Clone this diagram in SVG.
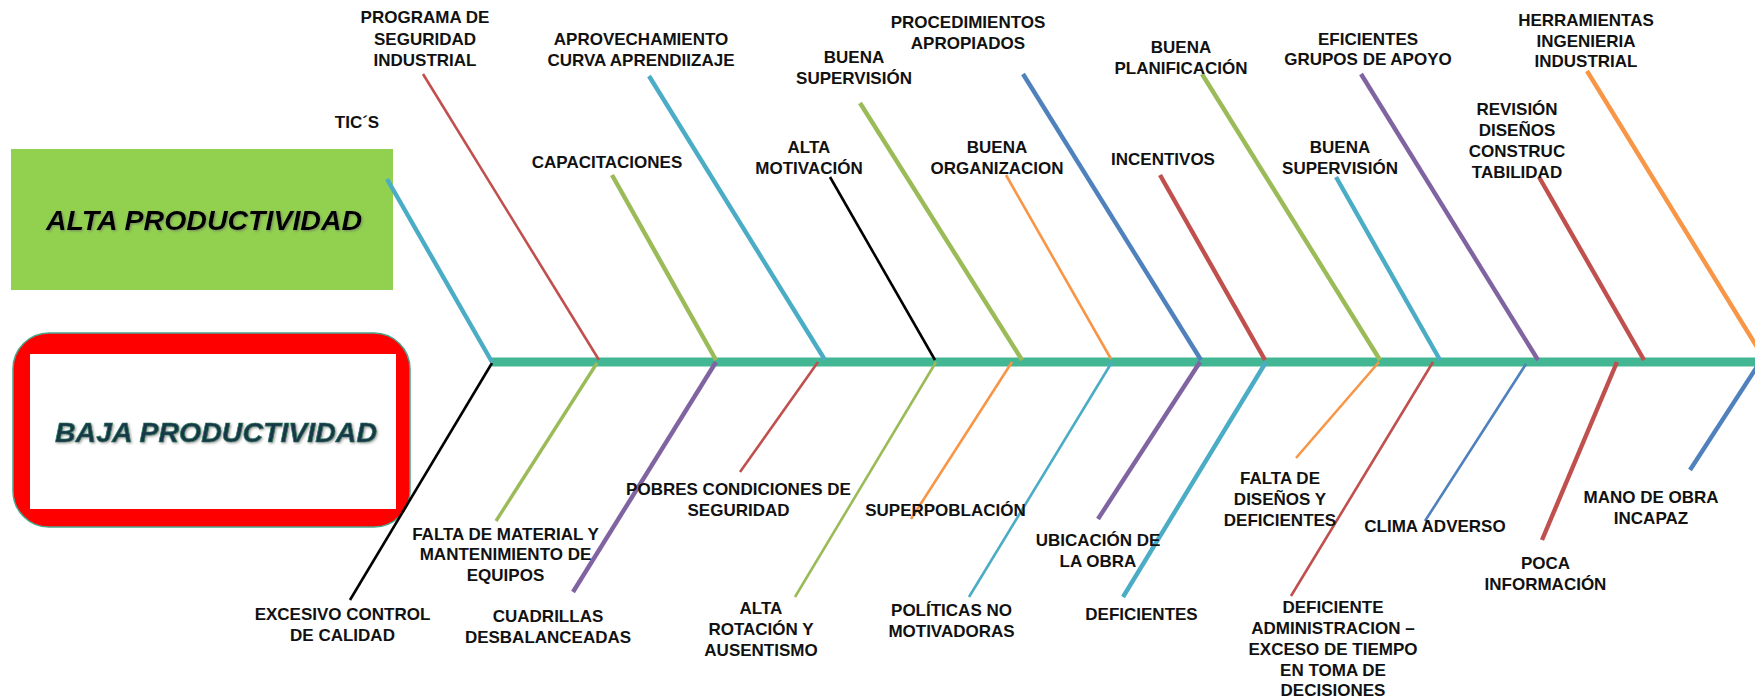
<svg xmlns="http://www.w3.org/2000/svg" width="1755" height="700" viewBox="0 0 1755 700">
<defs>
<style>
.lbl{font-family:"Liberation Sans",Arial,sans-serif;font-weight:bold;font-size:17px;text-anchor:middle;fill:#111}
.title{font-family:"Liberation Sans",Arial,sans-serif;font-weight:bold;font-style:italic;font-size:28.5px;text-anchor:middle}
.b{fill:none;stroke-linecap:butt}
.cy{stroke:#4bacc6}.rd{stroke:#c0504d}.gr{stroke:#9bbb59}.pu{stroke:#8064a2}.bl{stroke:#4f81bd}.or{stroke:#f79646}.bk{stroke:#000}
.t{stroke-width:2.6}.m{stroke-width:3.4}.w{stroke-width:4.4}
</style>
<filter id="sh" x="-5%" y="-20%" width="110%" height="140%">
<feDropShadow dx="1.2" dy="1.2" stdDeviation="0.8" flood-color="#666" flood-opacity="0.6"/>
</filter>
</defs>
<rect width="1755" height="700" fill="#fff"/>

<g id="alta-productividad">
<rect x="11" y="149" width="382" height="141" fill="#92d050"/>
<text class="title" x="204" y="230" fill="#000" filter="url(#sh)">ALTA PRODUCTIVIDAD</text>
</g>

<g id="baja-productividad">
<rect x="13" y="333" width="397" height="194" rx="36" ry="36" fill="#ff0000" stroke="#4aa58a" stroke-width="1.5"/>
<rect x="30" y="354" width="366" height="155" fill="#fff"/>
<text class="title" x="216" y="442" fill="#17394a" stroke="#2f7a5c" stroke-width="0.7" filter="url(#sh)">BAJA PRODUCTIVIDAD</text>
</g>

<g id="connectors">
<line x1="492" y1="362" x2="1755" y2="362" stroke="#43b693" stroke-width="9"/>
<line class="b cy w" x1="387" y1="179" x2="492" y2="362"/>
<line class="b rd t" x1="423" y1="74" x2="599" y2="360"/>
<line class="b gr w" x1="612" y1="175" x2="716" y2="360"/>
<line class="b cy w" x1="649" y1="76" x2="825" y2="360"/>
<line class="b bk t" x1="830" y1="177" x2="935" y2="360"/>
<line class="b gr w" x1="860" y1="103" x2="1022" y2="360"/>
<line class="b or t" x1="1006" y1="175" x2="1111" y2="359"/>
<line class="b bl w" x1="1023" y1="74" x2="1201" y2="360"/>
<line class="b rd w" x1="1160" y1="175" x2="1265" y2="360"/>
<line class="b gr w" x1="1202" y1="74" x2="1380" y2="360"/>
<line class="b cy w" x1="1336" y1="177" x2="1440" y2="360"/>
<line class="b pu w" x1="1361" y1="74" x2="1538" y2="360"/>
<line class="b rd w" x1="1539" y1="177" x2="1644" y2="360"/>
<line class="b or w" x1="1587" y1="71" x2="1757" y2="347"/>

<line class="b bk t" x1="492" y1="363" x2="350" y2="600"/>
<line class="b gr m" x1="597" y1="363" x2="496" y2="521"/>
<line class="b pu w" x1="716" y1="362" x2="573" y2="592"/>
<line class="b rd t" x1="818" y1="362" x2="740" y2="472"/>
<line class="b gr t" x1="936" y1="362" x2="795" y2="597"/>
<line class="b or t" x1="1012" y1="362" x2="911" y2="519"/>
<line class="b cy t" x1="1112" y1="362" x2="969" y2="597"/>
<line class="b pu w" x1="1200" y1="362" x2="1098" y2="519"/>
<line class="b cy w" x1="1266" y1="362" x2="1123" y2="597"/>
<line class="b or t" x1="1379" y1="362" x2="1296" y2="458"/>
<line class="b rd t" x1="1433" y1="362" x2="1291" y2="596"/>
<line class="b bl t" x1="1526" y1="364" x2="1425" y2="521"/>
<line class="b rd w" x1="1617" y1="362" x2="1542" y2="540"/>
<line class="b bl w" x1="1760" y1="362" x2="1690" y2="470"/>
</g>

<g id="tics"><text class="lbl" x="357" y="128">TIC´S</text></g>
<g id="programa-seguridad"><text class="lbl" x="425" y="23">PROGRAMA DE<tspan x="425" dy="21.5">SEGURIDAD</tspan><tspan x="425" dy="21.5">INDUSTRIAL</tspan></text></g>
<g id="capacitaciones"><text class="lbl" x="607" y="168">CAPACITACIONES</text></g>
<g id="aprovechamiento"><text class="lbl" x="641" y="44.5">APROVECHAMIENTO<tspan x="641" dy="21">CURVA APRENDIIZAJE</tspan></text></g>
<g id="alta-motivacion"><text class="lbl" x="809" y="153">ALTA<tspan x="809" dy="21">MOTIVACIÓN</tspan></text></g>
<g id="buena-supervision-1"><text class="lbl" x="854" y="63">BUENA<tspan x="854" dy="21">SUPERVISIÓN</tspan></text></g>
<g id="buena-organizacion"><text class="lbl" x="997" y="153">BUENA<tspan x="997" dy="21">ORGANIZACION</tspan></text></g>
<g id="procedimientos"><text class="lbl" x="968" y="28">PROCEDIMIENTOS<tspan x="968" dy="21">APROPIADOS</tspan></text></g>
<g id="incentivos"><text class="lbl" x="1163" y="165">INCENTIVOS</text></g>
<g id="buena-planificacion"><text class="lbl" x="1181" y="53">BUENA<tspan x="1181" dy="21">PLANIFICACIÓN</tspan></text></g>
<g id="buena-supervision-2"><text class="lbl" x="1340" y="153">BUENA<tspan x="1340" dy="21">SUPERVISIÓN</tspan></text></g>
<g id="eficientes"><text class="lbl" x="1368" y="44.5">EFICIENTES<tspan x="1368" dy="20">GRUPOS DE APOYO</tspan></text></g>
<g id="revision"><text class="lbl" x="1517" y="114.5">REVISIÓN<tspan x="1517" dy="21">DISEÑOS</tspan><tspan x="1517" dy="21">CONSTRUC</tspan><tspan x="1517" dy="21">TABILIDAD</tspan></text></g>
<g id="herramientas"><text class="lbl" x="1586" y="26">HERRAMIENTAS<tspan x="1586" dy="20.5">INGENIERIA</tspan><tspan x="1586" dy="20.5">INDUSTRIAL</tspan></text></g>

<g id="excesivo-control"><text class="lbl" x="342.5" y="620">EXCESIVO CONTROL<tspan x="342.5" dy="21">DE CALIDAD</tspan></text></g>
<g id="falta-material"><text class="lbl" x="505.5" y="539.5">FALTA DE MATERIAL Y<tspan x="505.5" dy="20.5">MANTENIMIENTO DE</tspan><tspan x="505.5" dy="20.5">EQUIPOS</tspan></text></g>
<g id="cuadrillas"><text class="lbl" x="548" y="622">CUADRILLAS<tspan x="548" dy="21">DESBALANCEADAS</tspan></text></g>
<g id="pobres-condiciones"><text class="lbl" x="738.5" y="494.5">POBRES CONDICIONES DE<tspan x="738.5" dy="21.5">SEGURIDAD</tspan></text></g>
<g id="alta-rotacion"><text class="lbl" x="761" y="613.5">ALTA<tspan x="761" dy="21">ROTACIÓN Y</tspan><tspan x="761" dy="21">AUSENTISMO</tspan></text></g>
<g id="superpoblacion"><text class="lbl" x="945.5" y="516">SUPERPOBLACIÓN</text></g>
<g id="politicas"><text class="lbl" x="951.5" y="616">POLÍTICAS NO<tspan x="951.5" dy="21">MOTIVADORAS</tspan></text></g>
<g id="ubicacion"><text class="lbl" x="1098" y="546">UBICACIÓN DE<tspan x="1098" dy="21">LA OBRA</tspan></text></g>
<g id="deficientes"><text class="lbl" x="1141.5" y="620">DEFICIENTES</text></g>
<g id="falta-disenos"><text class="lbl" x="1280" y="484">FALTA DE<tspan x="1280" dy="21">DISEÑOS Y</tspan><tspan x="1280" dy="21">DEFICIENTES</tspan></text></g>
<g id="deficiente-administracion"><text class="lbl" x="1333" y="613">DEFICIENTE<tspan x="1333" dy="21">ADMINISTRACION –</tspan><tspan x="1333" dy="20.5">EXCESO DE TIEMPO</tspan><tspan x="1333" dy="21">EN TOMA DE</tspan><tspan x="1333" dy="20.5">DECISIONES</tspan></text></g>
<g id="clima-adverso"><text class="lbl" x="1435" y="532">CLIMA ADVERSO</text></g>
<g id="poca-informacion"><text class="lbl" x="1545.5" y="569">POCA<tspan x="1545.5" dy="20.5">INFORMACIÓN</tspan></text></g>
<g id="mano-obra"><text class="lbl" x="1651" y="503">MANO DE OBRA<tspan x="1651" dy="21">INCAPAZ</tspan></text></g>
</svg>
